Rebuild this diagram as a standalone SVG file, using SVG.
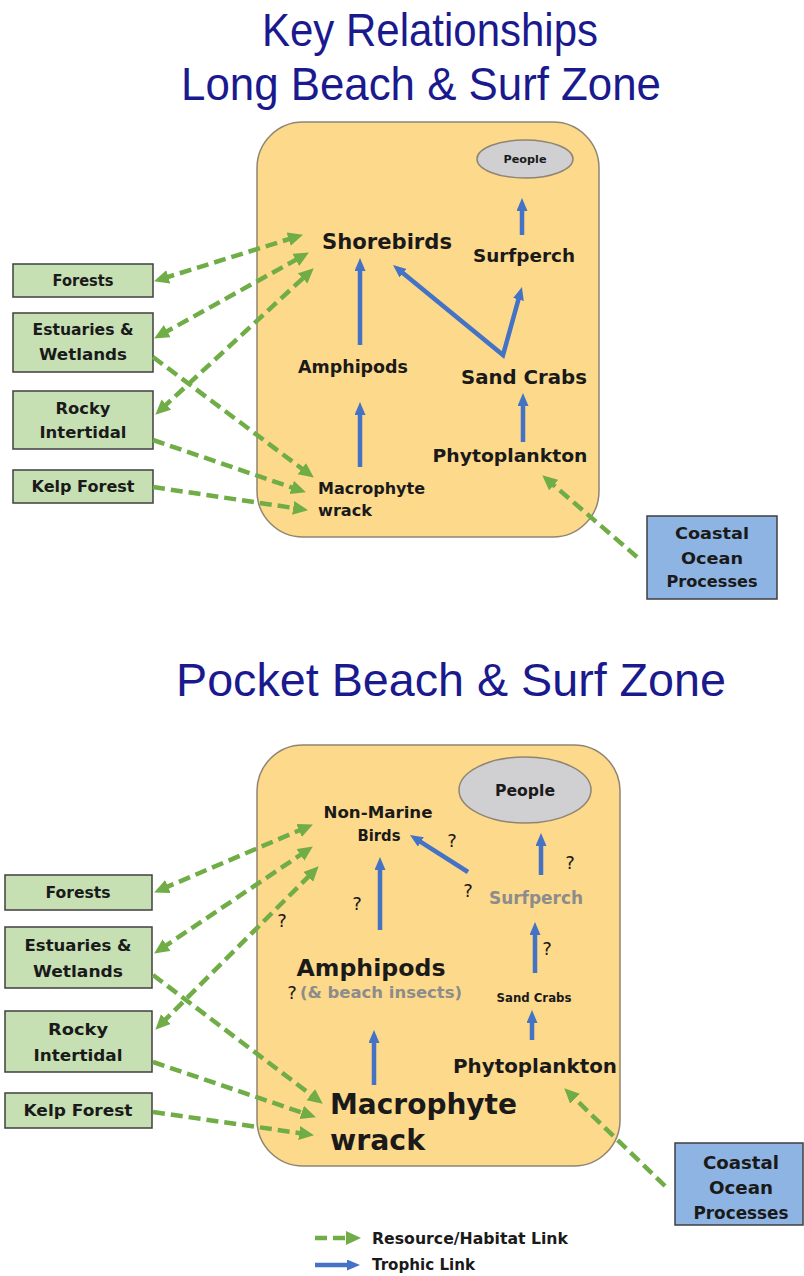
<svg xmlns="http://www.w3.org/2000/svg" width="804" height="1276" viewBox="0 0 804 1276">
<defs>
<style>
.title{font-family:"Liberation Sans",Arial,sans-serif;font-size:46px;fill:#1a1a8e;text-anchor:middle}
.lbl{font-family:"DejaVu Sans",sans-serif;font-weight:bold;fill:#1a1a1a;text-anchor:middle}
.gray{fill:#8c8c8c}
.q{font-family:"DejaVu Sans",sans-serif;font-size:18px;fill:#1a1a1a;text-anchor:middle}
.panel{fill:#fdd98b;stroke:#8f8572;stroke-width:1.5}
.gbox{fill:#c6e0b4;stroke:#3f3f3f;stroke-width:1.5}
.bbox{fill:#8db4e2;stroke:#3f3f3f;stroke-width:1.5}
.ppl{fill:#d0cfd2;stroke:#8f8572;stroke-width:1.5}
.tl{fill:none;stroke:#4472c4;stroke-width:4.5;marker-end:url(#bh)}
.gl{fill:none;stroke:#70ad47;stroke-width:4.5;stroke-dasharray:12 6;marker-end:url(#gh)}
.bi{marker-start:url(#gh)}
</style>
<marker id="bh" markerUnits="userSpaceOnUse" markerWidth="14" markerHeight="12" refX="5" refY="5.5" orient="auto-start-reverse"><path d="M0,0 L13,5.5 L0,11 z" fill="#4472c4"/></marker>
<marker id="gh" markerUnits="userSpaceOnUse" markerWidth="16" markerHeight="15" refX="6" refY="7" orient="auto-start-reverse"><path d="M0,0 L15,7 L0,14 z" fill="#70ad47"/></marker>
</defs>
<rect width="804" height="1276" fill="#ffffff"/>

<g id="titles">
<text class="title" x="430" y="46" textLength="336" lengthAdjust="spacingAndGlyphs">Key Relationships</text>
<text class="title" x="421" y="100" textLength="480" lengthAdjust="spacingAndGlyphs">Long Beach &amp; Surf Zone</text>
<text class="title" x="451" y="696" textLength="550" lengthAdjust="spacingAndGlyphs">Pocket Beach &amp; Surf Zone</text>
</g>

<!-- TOP PANEL -->
<g id="panel-top"><rect class="panel" x="257" y="122" width="342" height="415" rx="46"/></g>
<g id="people-top"><ellipse class="ppl" cx="525" cy="159" rx="48" ry="19"/><text class="lbl" x="525" y="163" font-size="11" textLength="43" lengthAdjust="spacingAndGlyphs">People</text></g>
<g id="shorebirds"><text class="lbl" x="387" y="249" font-size="21" textLength="130" lengthAdjust="spacingAndGlyphs">Shorebirds</text></g>
<g id="surfperch-top"><text class="lbl" x="524" y="262" font-size="18.5" textLength="102" lengthAdjust="spacingAndGlyphs">Surfperch</text></g>
<g id="amphipods-top"><text class="lbl" x="353" y="373" font-size="17" textLength="110" lengthAdjust="spacingAndGlyphs">Amphipods</text></g>
<g id="sandcrabs-top"><text class="lbl" x="524" y="384" font-size="20" textLength="126" lengthAdjust="spacingAndGlyphs">Sand Crabs</text></g>
<g id="phyto-top"><text class="lbl" x="510" y="462" font-size="18.5" textLength="155" lengthAdjust="spacingAndGlyphs">Phytoplankton</text></g>
<g id="wrack-top"><text class="lbl" x="318" y="494" font-size="16" style="text-anchor:start" textLength="107" lengthAdjust="spacingAndGlyphs">Macrophyte</text><text class="lbl" x="318" y="516" font-size="16" style="text-anchor:start" textLength="54" lengthAdjust="spacingAndGlyphs">wrack</text></g>

<g id="forests-top"><rect class="gbox" x="13" y="264" width="140" height="33"/><text class="lbl" x="83" y="286" font-size="15" textLength="61" lengthAdjust="spacingAndGlyphs">Forests</text></g>
<g id="estuaries-top"><rect class="gbox" x="13" y="313" width="140" height="59"/><text class="lbl" x="83" y="335" font-size="15" textLength="101" lengthAdjust="spacingAndGlyphs">Estuaries &amp;</text><text class="lbl" x="83" y="360" font-size="15" textLength="88" lengthAdjust="spacingAndGlyphs">Wetlands</text></g>
<g id="rocky-top"><rect class="gbox" x="13" y="391" width="140" height="58"/><text class="lbl" x="83" y="414" font-size="15" textLength="55" lengthAdjust="spacingAndGlyphs">Rocky</text><text class="lbl" x="83" y="438" font-size="15" textLength="87" lengthAdjust="spacingAndGlyphs">Intertidal</text></g>
<g id="kelp-top"><rect class="gbox" x="13" y="470" width="140" height="33"/><text class="lbl" x="83" y="492" font-size="15" textLength="103" lengthAdjust="spacingAndGlyphs">Kelp Forest</text></g>
<g id="coastal-top"><rect class="bbox" x="647" y="516" width="130" height="83"/><text class="lbl" x="712" y="539" font-size="16" textLength="74" lengthAdjust="spacingAndGlyphs">Coastal</text><text class="lbl" x="712" y="564" font-size="16" textLength="62" lengthAdjust="spacingAndGlyphs">Ocean</text><text class="lbl" x="712" y="587" font-size="16" textLength="91" lengthAdjust="spacingAndGlyphs">Processes</text></g>

<g id="connectors-top">
<path class="tl" d="M360,345 L360,266"/>
<path class="tl" d="M360,467 L360,410"/>
<path class="tl" d="M523,442 L523,401"/>
<path class="tl" style="marker-start:url(#bh);stroke-linejoin:miter" d="M399.2,270.1 L503,355 L519.8,294.7"/>
<path class="tl" d="M522,235 L522,206"/>
<path class="gl bi" d="M162.6,278.6 L294.4,237.4"/>
<path class="gl bi" d="M162,334.1 L301,256.9"/>
<path class="gl bi" d="M161.9,408.6 L307.1,274.4"/>
<path class="gl" d="M153,357 L306.6,472.2"/>
<path class="gl" d="M153,440 L297.4,489.4"/>
<path class="gl" d="M153,487 L299.1,508.8"/>
<path class="gl" d="M637,557 L549.1,481.2"/>
</g>

<!-- BOTTOM PANEL -->
<g id="panel-bottom"><rect class="panel" x="257" y="745" width="363" height="421" rx="46"/></g>
<g id="people-bottom"><ellipse class="ppl" cx="525" cy="790" rx="66" ry="33"/><text class="lbl" x="525" y="796" font-size="15.5" textLength="60" lengthAdjust="spacingAndGlyphs">People</text></g>
<g id="birds"><text class="lbl" x="378" y="818" font-size="15.5" textLength="109" lengthAdjust="spacingAndGlyphs">Non-Marine</text><text class="lbl" x="379" y="841" font-size="15.5" textLength="43" lengthAdjust="spacingAndGlyphs">Birds</text></g>
<g id="surfperch-bottom"><text class="lbl gray" x="536" y="904" font-size="17" textLength="94" lengthAdjust="spacingAndGlyphs">Surfperch</text></g>
<g id="amphipods-bottom"><text class="lbl" x="371" y="976" font-size="23.5" textLength="149" lengthAdjust="spacingAndGlyphs">Amphipods</text><text class="q" x="292" y="999" font-size="17">?</text><text class="lbl gray" x="381" y="998" font-size="15" textLength="162" lengthAdjust="spacingAndGlyphs">(&amp; beach insects)</text></g>
<g id="sandcrabs-bottom"><text class="lbl" x="534" y="1002" font-size="12" textLength="75" lengthAdjust="spacingAndGlyphs">Sand Crabs</text></g>
<g id="phyto-bottom"><text class="lbl" x="535" y="1073" font-size="20" textLength="164" lengthAdjust="spacingAndGlyphs">Phytoplankton</text></g>
<g id="wrack-bottom"><text class="lbl" x="330" y="1114" font-size="28" style="text-anchor:start" textLength="187" lengthAdjust="spacingAndGlyphs">Macrophyte</text><text class="lbl" x="330" y="1150" font-size="28" style="text-anchor:start" textLength="95" lengthAdjust="spacingAndGlyphs">wrack</text></g>
<g id="questions"><text class="q" x="452" y="847">?</text><text class="q" x="570" y="869">?</text><text class="q" x="468" y="897">?</text><text class="q" x="357" y="910">?</text><text class="q" x="282" y="927">?</text><text class="q" x="547" y="955">?</text></g>

<g id="forests-bottom"><rect class="gbox" x="5" y="875" width="147" height="35"/><text class="lbl" x="78" y="898" font-size="16" textLength="65" lengthAdjust="spacingAndGlyphs">Forests</text></g>
<g id="estuaries-bottom"><rect class="gbox" x="5" y="927" width="147" height="61"/><text class="lbl" x="78" y="951" font-size="16" textLength="107" lengthAdjust="spacingAndGlyphs">Estuaries &amp;</text><text class="lbl" x="78" y="977" font-size="16" textLength="90" lengthAdjust="spacingAndGlyphs">Wetlands</text></g>
<g id="rocky-bottom"><rect class="gbox" x="5" y="1011" width="147" height="61"/><text class="lbl" x="78" y="1035" font-size="16" textLength="60" lengthAdjust="spacingAndGlyphs">Rocky</text><text class="lbl" x="78" y="1061" font-size="16" textLength="89" lengthAdjust="spacingAndGlyphs">Intertidal</text></g>
<g id="kelp-bottom"><rect class="gbox" x="5" y="1093" width="147" height="35"/><text class="lbl" x="78" y="1116" font-size="16" textLength="109" lengthAdjust="spacingAndGlyphs">Kelp Forest</text></g>
<g id="coastal-bottom"><rect class="bbox" x="675" y="1143" width="128" height="82"/><text class="lbl" x="741" y="1169" font-size="17" textLength="76" lengthAdjust="spacingAndGlyphs">Coastal</text><text class="lbl" x="741" y="1194" font-size="17" textLength="64" lengthAdjust="spacingAndGlyphs">Ocean</text><text class="lbl" x="741" y="1219" font-size="17" textLength="95" lengthAdjust="spacingAndGlyphs">Processes</text></g>

<g id="connectors-bottom">
<path class="tl" d="M380,930 L380,865"/>
<path class="tl" d="M468,872 L416.7,839.3"/>
<path class="tl" d="M541,875 L541,841"/>
<path class="tl" d="M535,973 L535,930"/>
<path class="tl" d="M532,1040 L532,1018"/>
<path class="tl" d="M374,1085 L374,1038"/>
<path class="gl bi" d="M162.4,888.9 L304.6,828.1"/>
<path class="gl bi" d="M161.6,948.5 L305.4,851.5"/>
<path class="gl bi" d="M161.7,1023.3 L312.3,872.7"/>
<path class="gl" d="M153,975 L315.6,1098.2"/>
<path class="gl" d="M153,1062 L307.4,1114.4"/>
<path class="gl" d="M153,1112 L305.1,1133.9"/>
<path class="gl" d="M665,1186 L570.7,1094.6"/>
</g>

<g id="legend">
<path class="gl" d="M315,1238 L352,1238"/>
<path class="tl" d="M315,1265 L352,1265"/>
<text class="lbl" x="372" y="1244" font-size="15" style="text-anchor:start" textLength="196" lengthAdjust="spacingAndGlyphs">Resource/Habitat Link</text>
<text class="lbl" x="372" y="1270" font-size="15" style="text-anchor:start" textLength="103" lengthAdjust="spacingAndGlyphs">Trophic Link</text>
</g>
</svg>
